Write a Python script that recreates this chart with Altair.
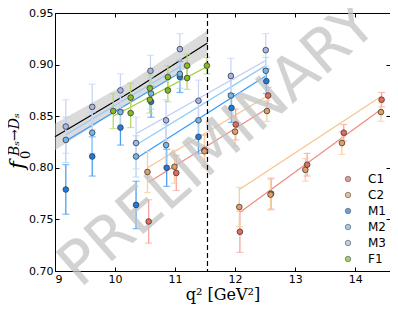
import altair as alt
import pandas as pd

# ---------------- data ----------------
series_names = ["C1", "C2", "M1", "M2", "M3", "F1"]

C1_x = [10.56, 11.02, 11.49, 12.01, 12.55, 12.08, 12.60, 13.20, 13.81, 14.44]
C1_y = [0.748, 0.795, 0.817, 0.842, 0.870, 0.738, 0.775, 0.803, 0.834, 0.866]
C1_e = [0.021, 0.017, 0.015, 0.015, 0.008, 0.020, 0.015, 0.011, 0.008, 0.007]

C2_x = [10.54, 10.99, 11.49, 12.00, 12.53, 12.07, 12.59, 13.17, 13.78, 14.43]
C2_y = [0.796, 0.801, 0.816, 0.835, 0.855, 0.762, 0.774, 0.798, 0.824, 0.854]
C2_e = [0.020, 0.016, 0.016, 0.014, 0.010, 0.019, 0.015, 0.011, 0.011, 0.009]

M1_x = [9.18, 9.62, 10.09, 10.60, 11.08, 10.35, 10.86, 11.39, 11.94, 12.52]
M1_y = [0.779, 0.811, 0.839, 0.864, 0.888, 0.764, 0.800, 0.830, 0.858, 0.884]
M1_e = [0.024, 0.019, 0.017, 0.015, 0.015, 0.023, 0.018, 0.016, 0.014, 0.012]

M2_x = [9.18, 9.62, 10.09, 10.60, 11.08, 10.35, 10.85, 11.39, 11.93, 12.51]
M2_y = [0.827, 0.834, 0.854, 0.872, 0.891, 0.811, 0.822, 0.846, 0.870, 0.894]
M2_e = [0.022, 0.020, 0.016, 0.015, 0.014, 0.020, 0.020, 0.018, 0.016, 0.013]

M3_x = [9.18, 9.62, 10.09, 10.59, 11.08, 10.35, 10.85, 11.39, 11.93, 12.51]
M3_y = [0.840, 0.859, 0.875, 0.894, 0.915, 0.824, 0.846, 0.865, 0.889, 0.914]
M3_e = [0.026, 0.022, 0.016, 0.015, 0.015, 0.025, 0.020, 0.020, 0.017, 0.016]

F1_x = [9.97, 10.26, 10.26, 10.58, 10.58, 10.88, 10.88, 11.20, 11.20, 11.53]
F1_y = [0.855, 0.868, 0.853, 0.877, 0.866, 0.888, 0.875, 0.899, 0.887, 0.899]
F1_e = [0.017, 0.014, 0.014, 0.013, 0.013, 0.011, 0.011, 0.011, 0.011, 0.008]

# fit segments: series, segment id, x start, y start, x end, y end
seg_series = ["M2", "M1", "M3", "M2", "M1", "F1", "C2", "C1", "C2", "C1"]
seg_id = ["M2a", "M1a", "M3b", "M2b", "M1b", "F1a", "C2a", "C1a", "C2b", "C1b"]
seg_x0 = [9.18, 9.18, 10.35, 10.35, 10.35, 9.97, 10.54, 10.56, 12.07, 12.08]
seg_y0 = [0.832, 0.826, 0.833, 0.822, 0.809, 0.850, 0.800, 0.786, 0.779, 0.757]
seg_x1 = [11.08, 11.08, 12.51, 12.51, 12.51, 11.53, 12.55, 12.55, 14.43, 14.44]
seg_y1 = [0.898, 0.892, 0.904, 0.899, 0.889, 0.898, 0.870, 0.858, 0.869, 0.857]

# continuum fit with error band
band_x = [9.0, 10.3, 11.54]
band_y = [0.830, 0.875, 0.921]
band_e = [0.013, 0.010, 0.012]

boundary_x = [11.54]

x_ticks = [9, 10, 11, 12, 13, 14]
y_ticks = [0.70, 0.75, 0.80, 0.85, 0.90, 0.95]

# ---------------- styles ----------------
marker_colors = ["#e8695a", "#e3a063", "#1b7be0", "#72b6ea", "#a6b6ea", "#86ba22"]
bar_colors = {"C1": "#f7a59c", "C2": "#f7cfa0", "M1": "#4aa0f0", "M2": "#a9d4f7",
              "M3": "#c9d6f7", "F1": "#b4d96a"}
line_colors = {"C1": "#f08a7e", "C2": "#f7c48c", "M1": "#3399ff", "M2": "#8fcbf7",
               "M3": "#bccbf7", "F1": "#9acb3a"}

rows = []
for name, xs, ys, es in [("C1", C1_x, C1_y, C1_e), ("C2", C2_x, C2_y, C2_e),
                         ("M1", M1_x, M1_y, M1_e), ("M2", M2_x, M2_y, M2_e),
                         ("M3", M3_x, M3_y, M3_e), ("F1", F1_x, F1_y, F1_e)]:
    for x, y, e in zip(xs, ys, es):
        rows.append({"series": name, "q2": x, "f0": y, "lo": y - e, "hi": y + e,
                     "barcolor": bar_colors[name]})
pts = pd.DataFrame(rows)

seg_rows = []
for s, g, x0, y0, x1, y1 in zip(seg_series, seg_id, seg_x0, seg_y0, seg_x1, seg_y1):
    seg_rows.append({"series": s, "seg": g, "q2": x0, "f0": y0, "lc": line_colors[s]})
    seg_rows.append({"series": s, "seg": g, "q2": x1, "f0": y1, "lc": line_colors[s]})
segs = pd.DataFrame(seg_rows)

band = pd.DataFrame({"q2": band_x, "f0": band_y,
                     "lo": [y - e for y, e in zip(band_y, band_e)],
                     "hi": [y + e for y, e in zip(band_y, band_e)]})
bnd = pd.DataFrame({"q2": boundary_x})

xscale = alt.Scale(domain=[9, 14.58], nice=False, zero=False)
yscale = alt.Scale(domain=[0.70, 0.95], nice=False, zero=False)

tick_common = dict(domain=False, offset=-4, tickSize=4, tickColor="black", tickWidth=1)

x_main = alt.Axis(values=x_ticks, format="d", title="q² [GeV²]", labelPadding=2,
                  titleFont="DejaVu Serif", titleFontSize=16, titleFontWeight="normal",
                  titlePadding=2, labelFontSize=11, labelColor="black", titleColor="black",
                  grid=False, **tick_common)
y_main = alt.Axis(values=y_ticks, format=".2f", title=None, labelPadding=2,
                  labelFontSize=11, labelColor="black", grid=False, **tick_common)
x_top = alt.Axis(values=x_ticks, orient="top", labels=False, title=None, grid=False, **tick_common)
y_right = alt.Axis(values=y_ticks, orient="right", labels=False, title=None, grid=False, **tick_common)

base_font = "DejaVu Sans"

band_layer = alt.Chart(band).mark_area(color="#bdbdbd", opacity=0.55).encode(
    x=alt.X("q2:Q", scale=xscale, axis=None),
    y=alt.Y("lo:Q", scale=yscale, axis=None),
    y2="hi:Q",
)

black_line = alt.Chart(band).mark_line(color="black", strokeWidth=1.2).encode(
    x=alt.X("q2:Q", scale=xscale, axis=x_top),
    y=alt.Y("f0:Q", scale=yscale, axis=y_right),
)

seg_layer = alt.Chart(segs).mark_line(strokeWidth=1.2).encode(
    x=alt.X("q2:Q", scale=xscale, axis=None),
    y=alt.Y("f0:Q", scale=yscale, axis=None),
    detail="seg:N",
    color=alt.Color("lc:N", scale=None),
)

err_rule = alt.Chart(pts).mark_rule(strokeWidth=1.3).encode(
    x=alt.X("q2:Q", scale=xscale, axis=None),
    y=alt.Y("lo:Q", scale=yscale, axis=None),
    y2="hi:Q",
    color=alt.Color("barcolor:N", scale=None),
)
cap_lo = alt.Chart(pts).mark_tick(orient="horizontal", size=7, thickness=1.2).encode(
    x=alt.X("q2:Q", scale=xscale, axis=None),
    y=alt.Y("lo:Q", scale=yscale, axis=None),
    color=alt.Color("barcolor:N", scale=None),
)
cap_hi = alt.Chart(pts).mark_tick(orient="horizontal", size=7, thickness=1.2).encode(
    x=alt.X("q2:Q", scale=xscale, axis=None),
    y=alt.Y("hi:Q", scale=yscale, axis=None),
    color=alt.Color("barcolor:N", scale=None),
)

points = alt.Chart(pts).mark_point(filled=True, size=32, stroke="#3a3a3a", strokeWidth=0.8,
                                   opacity=1).encode(
    x=alt.X("q2:Q", scale=xscale, axis=x_main),
    y=alt.Y("f0:Q", scale=yscale, axis=y_main),
    color=alt.Color("series:N",
                    scale=alt.Scale(domain=series_names, range=marker_colors),
                    sort=series_names,
                    legend=alt.Legend(title=None, orient="none", legendX=287, legendY=160,
                                      symbolType="circle", symbolSize=30,
                                      symbolStrokeColor="#3a3a3a", symbolStrokeWidth=0.8,
                                      labelFontSize=12, labelFont=base_font, labelColor="black",
                                      rowPadding=4, labelOffset=14, symbolOpacity=1)),
)

dashed = alt.Chart(bnd).mark_rule(color="black", strokeDash=[5, 3], strokeWidth=1.2).encode(
    x=alt.X("q2:Q", scale=xscale, axis=None),
)

watermark = alt.Chart(pd.DataFrame({"t": ["PRELIMINARY"]})).mark_text(
    font=base_font, fontSize=60, angle=319, color="#c4c4c4", opacity=0.75,
    align="center", baseline="middle"
).encode(text="t:N", x=alt.value(163), y=alt.value(132))

ylab_f = alt.Chart(pd.DataFrame({"t": ["f"]})).mark_text(
    font="DejaVu Serif", fontStyle="italic", fontSize=21, angle=270, align="left",
    baseline="alphabetic", color="black"
).encode(text="t:N", x=alt.value(-31), y=alt.value(156))
ylab_sub = alt.Chart(pd.DataFrame({"t": ["0"]})).mark_text(
    font="DejaVu Serif", fontSize=13, angle=270, align="left",
    baseline="alphabetic", color="black"
).encode(text="t:N", x=alt.value(-25), y=alt.value(146))
ylab_sup = alt.Chart(pd.DataFrame({"t": ["Bₛ→Dₛ"]})).mark_text(
    font="DejaVu Serif", fontStyle="italic", fontSize=14, angle=270, align="left",
    baseline="alphabetic", color="black"
).encode(text="t:N", x=alt.value(-36), y=alt.value(143))

chart = alt.layer(
    band_layer, black_line, seg_layer, err_rule, cap_lo, cap_hi, watermark, dashed, points,
    ylab_f, ylab_sub, ylab_sup
).resolve_axis(x="independent", y="independent").properties(
    width=335, height=258,
    autosize=alt.AutoSizeParams(type="none"),
    padding={"left": 47, "top": 5, "right": 0, "bottom": 34},
).configure_view(stroke="black", strokeWidth=1).configure_axis(
    labelFont=base_font
)

chart.save("out.html", embed_options={"renderer": "svg", "actions": False})
